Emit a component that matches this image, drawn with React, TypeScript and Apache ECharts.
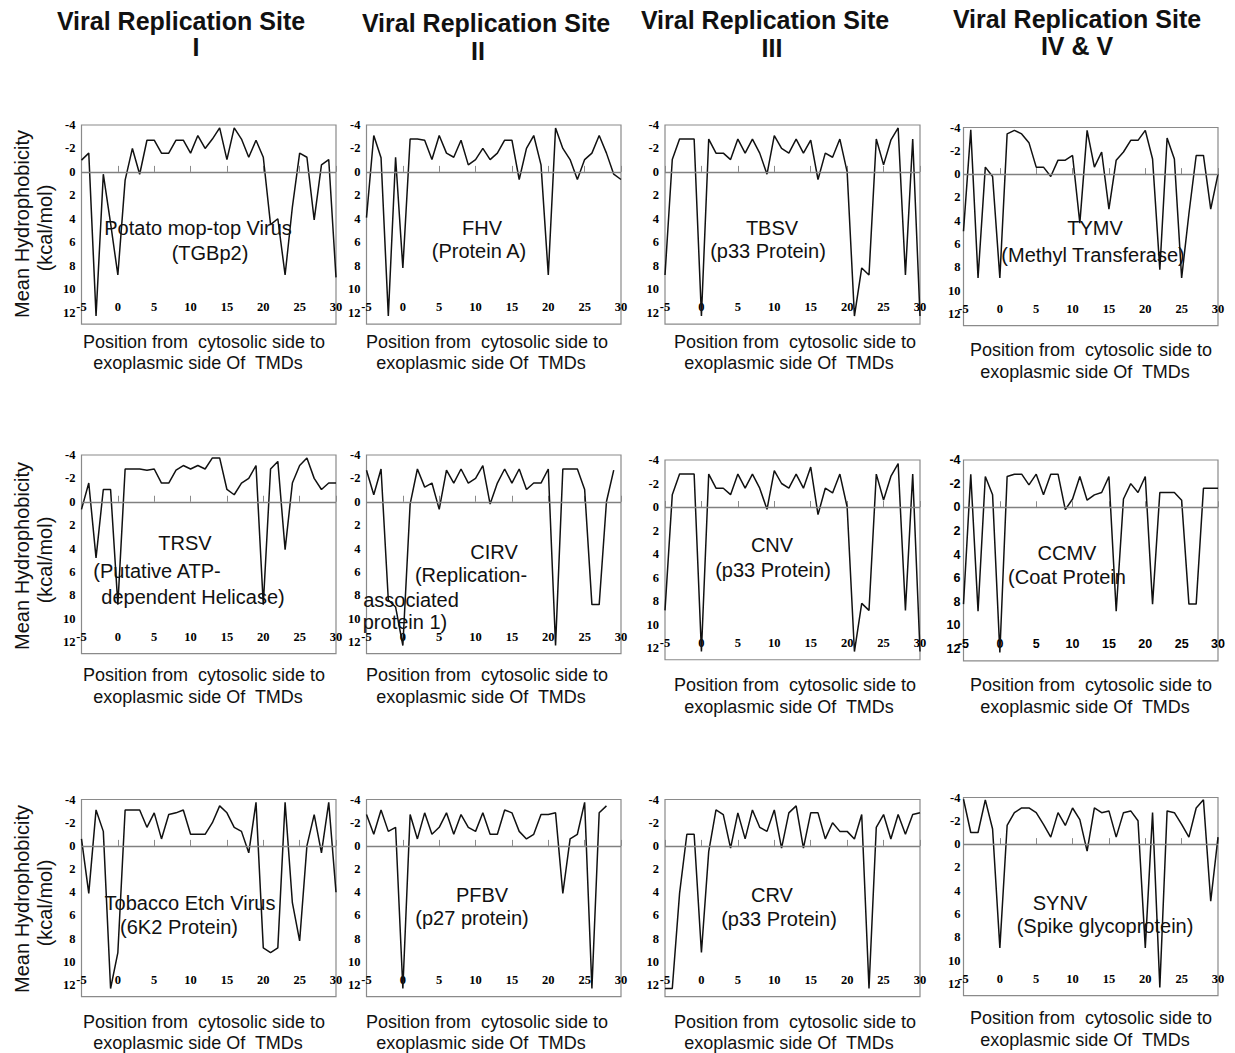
import React, { useEffect, useRef } from 'react';
import * as echarts from 'echarts';

const POSITIONS = [-5, -4, -3, -2, -1, 0, 1, 2, 3, 4, 5, 6, 7, 8, 9, 10, 11, 12, 13, 14, 15, 16, 17, 18, 19, 20, 21, 22, 23, 24, 25, 26, 27, 28, 29, 30];

const PMTV = [-1, -1.6, 12.3, 0.2, 4.4, 8.8, 0.7, -2, 0.2, -2.7, -2.7, -1.6, -1.6, -2.7, -2.7, -1.6, -3.1, -2, -2.8, -3.75, -1.05, -3.75, -2.8, -1.25, -2.7, -1.25, 4.5, 4.0, 8.8, 3, -1.6, -1.25, 4.1, -0.6, -1.05, 9];
const FHV = [3.9, -3.1, -1.2, 12.3, -1.25, 8.2, -2.8, -2.8, -2.7, -1.05, -3.1, -1.6, -1.25, -2.7, -0.6, -1.05, -2, -1.05, -1.6, -2.7, -2.7, 0.65, -2, -3.1, -0.6, 8.8, -3.75, -2, -1.05, 0.65, -1.05, -1.6, -3.1, -1.6, 0.2, 0.65];
const TBSV = [8.8, -1.05, -2.8, -2.8, -2.8, 12.3, -2.8, -1.6, -1.6, -1.05, -2.8, -1.6, -2.8, -1.6, 0.2, -3.1, -2, -1.6, -2.8, -1.6, -2.7, 0.65, -1.6, -1.25, -2.8, 0, 12.3, 8.2, 8.8, -2.8, -0.6, -2.7, -3.75, 8.8, -2.8, 12.3];
const TYMV = [4.9, -3.8, 8.9, -0.6, 0.2, 8.9, -3.45, -3.75, -3.45, -2.7, -0.6, -0.6, 0.2, -1.2, -1.2, -1.6, 4.2, -3.75, -0.6, -1.9, 3, -1.2, -1.9, -2.9, -2.9, -3.75, -1.3, 8.2, -3.1, -1.3, 8.9, 3.4, -1.6, -1.6, 3.0, 0];
const TRSV = [0.65, -1.6, 4.8, -1.05, -1.05, 8.8, -2.8, -2.8, -2.8, -2.7, -2.8, -1.6, -1.6, -2.7, -3.1, -2.8, -3.1, -2.8, -3.75, -3.75, -1.05, -0.6, -1.6, -2, -3.1, 8.8, -2.8, -3.45, 4.1, -1.6, -3.1, -3.75, -2, -1.05, -1.6, -1.6];
const CIRV = [-2.7, -0.6, -2.8, 8.4, 9.0, 12.3, 0.2, -2.8, -1.25, -1.6, 0.65, -2.7, -1.6, -2.8, -1.6, -2, -3.1, 0.2, -1.6, -2.8, -1.6, -2.8, -1.05, -1.6, -1.6, -2.8, 12.3, -2.8, -2.8, -2.8, -1.05, 8.8, 8.8, 0, -2.7];
const CNV = [8.8, -1.05, -2.8, -2.8, -2.8, 12.3, -2.8, -1.6, -1.6, -1.05, -2.8, -1.6, -2.8, -1.6, 0.2, -3.1, -2, -1.6, -2.8, -1.6, -3.4, 0.65, -1.6, -1.2, -2.8, 0, 12.3, 8.2, 8.8, -2.8, -0.6, -2.6, -3.7, 8.8, -2.8, 12.3];
const CCMV = [8.2, -2.8, 8.8, -2.6, -1.05, 12.3, -2.6, -2.8, -2.8, -1.9, -2.8, -1.05, -2.8, -2.8, 0.2, -0.7, -2.6, -0.6, -1.05, -1.25, -2.6, 8.8, -0.7, -2, -1.25, -2.6, 8.2, -1.25, -1.25, -1.25, -0.6, 8.2, 8.2, -1.6, -1.6, -1.6];
const TEV = [-0.6, 4.1, -3.1, -1.25, 12.3, 9.2, -3.1, -3.1, -3.1, -1.6, -2.85, -0.6, -2.7, -2.85, -3.1, -1.0, -1.0, -1.0, -2, -3.45, -2.85, -1.6, -1.25, 0.6, -3.75, 8.8, 9.2, 8.8, -3.75, 4.9, 8.2, 0, -2.7, 0.6, -3.75, 4.0];
const PFBV = [-2.7, -1.0, -3.1, -1.25, -1.6, 12.3, -2.7, -0.6, -2.85, -1.0, -1.6, -2.85, -1.0, -2.7, -1.6, -1.25, -2.85, -1.0, -1.0, -3.1, -2.85, -1.25, -0.6, -1.0, -2.7, -2.7, -2.85, 4.1, -0.6, -1.0, -3.75, 12.3, -2.85, -3.45];
const CRV = [12.3, 12.3, 4.1, -1.0, -1.0, 9.2, 0.5, -3.1, -2.7, 0.2, -2.85, -0.6, -3.1, -1.6, -1.25, -3.1, 0.2, -2.85, -3.45, 0.2, -2.85, -2.85, -0.6, -2, -1.25, -1.25, -0.6, -2.7, 12.3, -1.6, -2.7, -0.6, -2.7, -1.0, -2.7, -2.85];
const SYNV = [-3.85, -1.0, -1.0, -3.8, -1.3, 8.9, -1.6, -2.7, -3.1, -3.1, -2.7, -1.7, -0.6, -2.7, -1.6, -3.1, -2.1, 0.6, -3.1, -2.7, -2.85, -0.6, -2.7, -2.85, -2, 8.9, -2.7, 12.3, -2.85, -2.7, -1.7, -0.6, -3.1, -3.8, 4.9, -0.6];

const SERIES_VALUES = [PMTV, FHV, TBSV, TYMV, TRSV, CIRV, CNV, CCMV, TEV, PFBV, CRV, SYNV];

const HEADERS = [
  [['Viral Replication Site', 181, 21], ['I', 196, 47]],
  [['Viral Replication Site', 486, 23], ['II', 478, 51]],
  [['Viral Replication Site', 765, 20], ['III', 772, 48]],
  [['Viral Replication Site', 1077, 19], ['IV & V', 1077, 46]],
];

const PANEL_LABELS = [
  [['Potato mop-top Virus', 198, 228], ['(TGBp2)', 210, 253]],
  [['FHV', 482, 228], ['(Protein A)', 479, 251]],
  [['TBSV', 772, 228], ['(p33 Protein)', 768, 251]],
  [['TYMV', 1095, 228], ['(Methyl Transferase)', 1093, 255]],
  [['TRSV', 185, 543], ['(Putative ATP-', 157, 571], ['dependent Helicase)', 193, 597]],
  [['CIRV', 494, 552], ['(Replication-', 471, 575], ['associated', 411, 600], ['protein 1)', 405, 622]],
  [['CNV', 772, 545], ['(p33 Protein)', 773, 570]],
  [['CCMV', 1067, 553], ['(Coat Protein', 1067, 577]],
  [['Tobacco Etch Virus', 190, 903], ['(6K2 Protein)', 179, 927]],
  [['PFBV', 482, 895], ['(p27 protein)', 472, 918]],
  [['CRV', 772, 895], ['(p33 Protein)', 779, 919]],
  [['SYNV', 1060, 903], ['(Spike glycoprotein)', 1105, 926]],
];

const X_NAME_1 = 'Position from  cytosolic side to';
const X_NAME_2 = 'exoplasmic side Of  TMDs';
const Y_NAME_1 = 'Mean Hydrophobicity';
const Y_NAME_2 = '(kcal/mol)';

// layout: left, top (value -4), y of value 12, width, x-name line y's, x-name centers
const LAYOUT = [
  { l: 81.5, t: 125, y12: 312.5, w: 254.5, ny: [342, 363], nx: [204, 198] },
  { l: 366.5, t: 125, y12: 312.5, w: 254.5, ny: [342, 363], nx: [487, 481] },
  { l: 665, t: 125, y12: 312.5, w: 255, ny: [342, 363], nx: [795, 789] },
  { l: 963.5, t: 127.5, y12: 314, w: 254.5, ny: [350, 372], nx: [1091, 1085] },
  { l: 81.5, t: 455, y12: 642, w: 254.5, ny: [675, 697], nx: [204, 198] },
  { l: 366.5, t: 455, y12: 642, w: 254.5, ny: [675, 697], nx: [487, 481] },
  { l: 665, t: 460, y12: 648, w: 255, ny: [685, 707], nx: [795, 789] },
  { l: 963.5, t: 460, y12: 649, w: 254.5, ny: [685, 707], nx: [1091, 1085] },
  { l: 81.5, t: 799.5, y12: 985, w: 254.5, ny: [1022, 1043], nx: [204, 198] },
  { l: 366.5, t: 799.5, y12: 985, w: 254.5, ny: [1022, 1043], nx: [487, 481] },
  { l: 665, t: 799.5, y12: 985, w: 255, ny: [1022, 1043], nx: [795, 789] },
  { l: 963.5, t: 797.5, y12: 984, w: 254.5, ny: [1018, 1040], nx: [1091, 1085] },
];

const Y_NAME_ROWS = [
  [224, 228],
  [556, 560],
  [899, 903],
];

const Y_MIN = -4;
const Y_MAX = 13;

function txt(text: string, x: number, y: number, font: string, rotation = 0) {
  return {
    type: 'text',
    x,
    y,
    rotation,
    silent: true,
    style: {
      text,
      font,
      fill: '#111',
      align: 'center',
      verticalAlign: 'middle',
      textAlign: 'center',
      textVerticalAlign: 'middle',
    },
  };
}

export default function App() {
  const ref = useRef<HTMLDivElement>(null);

  useEffect(() => {
    if (!ref.current) return;
    const chart = echarts.init(ref.current, null, { renderer: 'svg' });

    const grids: any[] = [];
    const xAxes: any[] = [];
    const yAxes: any[] = [];
    const series: any[] = [];
    const graphics: any[] = [];

    LAYOUT.forEach((p, i) => {
      const ppu = (p.y12 - p.t) / 16;
      const h = ppu * (Y_MAX - Y_MIN);
      grids.push({
        left: p.l,
        top: p.t,
        width: p.w,
        height: h,
        show: true,
        borderColor: '#8a8a8a',
        borderWidth: 1.2,
        backgroundColor: 'transparent',
        containLabel: false,
      });
      const labelFont = i === 7 ? 'Liberation Sans' : 'Liberation Serif';
      xAxes.push({
        gridIndex: i,
        type: 'value',
        min: -5,
        max: 30,
        interval: 5,
        axisLine: { show: false },
        axisTick: { show: true, inside: true, length: 6, lineStyle: { color: '#8a8a8a', width: 1 } },
        splitLine: { show: false },
        axisLabel: {
          margin: -(h - ppu * 16) - 12,
          fontFamily: labelFont,
          fontWeight: 'bold',
          fontSize: 12.5,
          color: '#000',
          showMinLabel: true,
          showMaxLabel: true,
        },
      });
      yAxes.push({
        gridIndex: i,
        type: 'value',
        inverse: true,
        min: Y_MIN,
        max: Y_MAX,
        interval: 2,
        axisLine: { show: false },
        axisTick: { show: false },
        splitLine: { show: false },
        axisLabel: {
          margin: i % 4 === 3 ? 3 : 6,
          fontFamily: labelFont,
          fontWeight: 'bold',
          fontSize: 12.5,
          color: '#000',
          formatter: (v: number) => (Math.abs(v % 2) < 1e-9 && v <= 12 ? String(v) : ''),
        },
      });
      const vals = SERIES_VALUES[i];
      series.push({
        type: 'line',
        xAxisIndex: i,
        yAxisIndex: i,
        data: vals.map((v, k) => [POSITIONS[k], v]),
        symbol: 'none',
        lineStyle: { color: '#111', width: 1.5 },
        silent: true,
        markLine: {
          silent: true,
          symbol: 'none',
          label: { show: false },
          lineStyle: { color: '#808080', width: 1.4, type: 'solid' },
          data: [{ yAxis: 0 }],
        },
      });

      PANEL_LABELS[i].forEach(([t, x, y]) => {
        graphics.push(txt(t as string, x as number, y as number, '20px "Liberation Sans"'));
      });
      graphics.push(txt(X_NAME_1, p.nx[0], p.ny[0], '18px "Liberation Sans"'));
      graphics.push(txt(X_NAME_2, p.nx[1], p.ny[1], '18px "Liberation Sans"'));
    });

    HEADERS.forEach((col) => {
      col.forEach(([t, x, y]) => {
        graphics.push(txt(t as string, x as number, y as number, 'bold 25px "Liberation Sans"'));
      });
    });

    Y_NAME_ROWS.forEach(([c1, c2]) => {
      graphics.push(txt(Y_NAME_1, 22, c1, '20px "Liberation Sans"', Math.PI / 2));
      graphics.push(txt(Y_NAME_2, 45, c2, '20px "Liberation Sans"', Math.PI / 2));
    });

    chart.setOption({
      animation: false,
      backgroundColor: '#fff',
      grid: grids,
      xAxis: xAxes,
      yAxis: yAxes,
      series,
      graphic: { elements: graphics },
    });

    return () => chart.dispose();
  }, []);

  return (
    <div
      ref={ref}
      style={{ position: 'absolute', left: 0, top: 0, width: 1235, height: 1053 }}
    />
  );
}
